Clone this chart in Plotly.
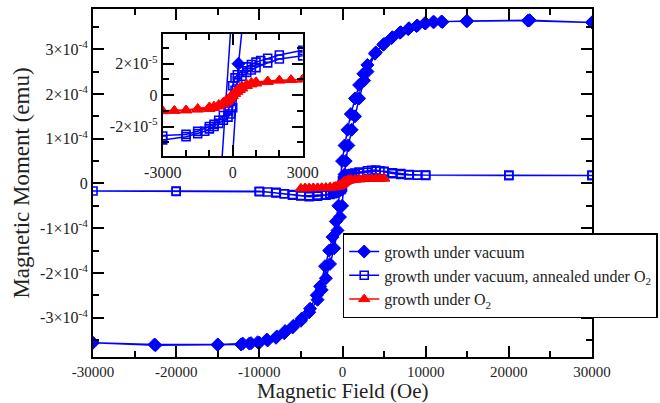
import plotly.graph_objects as go

# ---------------- data ----------------
# growth under vacuum: full hysteresis loop (descending then ascending branch)
vacuum_field = [30000, 22500, 15000, 12000, 11000, 10000, 9000, 8000, 7000, 6000,
                5000, 4000, 3000, 2500, 2000, 1500, 1000, 600, 250, -50,
                -500, -800, -1200, -1600, -2100, -2700, -3100, -3900, -4900, -5900,
                -6900, -7900, -9100, -10200, -11000, -12000, -15000, -22600, -30000,
                -22500, -15000, -12200, -11200, -10000, -9000, -8000, -7000, -6000,
                -5000, -4000, -3000, -2500, -2000, -1500, -1000, -600, -300, -50,
                250, 380, 700, 1100, 1500, 2000, 2600, 3000, 3900, 4900,
                5900, 6900, 7900, 8900, 9900, 10900, 11900, 14900, 22300, 30000]
vacuum_moment = [3.60e-4, 3.65e-4, 3.63e-4, 3.61e-4, 3.61e-4, 3.58e-4, 3.53e-4, 3.47e-4, 3.38e-4, 3.27e-4,
                 3.12e-4, 2.93e-4, 2.65e-4, 2.45e-4, 2.20e-4, 1.90e-4, 1.55e-4, 1.20e-4, 0.85e-4, 0.50e-4,
                 -0.50e-4, -0.85e-4, -1.20e-4, -1.50e-4, -1.85e-4, -2.30e-4, -2.50e-4, -2.80e-4, -3.02e-4, -3.18e-4,
                 -3.30e-4, -3.42e-4, -3.49e-4, -3.55e-4, -3.57e-4, -3.58e-4, -3.60e-4, -3.60e-4, -3.56e-4,
                 -3.62e-4, -3.61e-4, -3.60e-4, -3.58e-4, -3.56e-4, -3.51e-4, -3.45e-4, -3.35e-4, -3.22e-4,
                 -3.07e-4, -2.88e-4, -2.60e-4, -2.38e-4, -2.12e-4, -1.80e-4, -1.45e-4, -1.05e-4, -0.75e-4, -0.50e-4,
                 0.20e-4, 0.50e-4, 0.85e-4, 1.20e-4, 1.50e-4, 1.90e-4, 2.30e-4, 2.50e-4, 2.90e-4, 3.10e-4,
                 3.25e-4, 3.37e-4, 3.45e-4, 3.52e-4, 3.58e-4, 3.61e-4, 3.62e-4, 3.63e-4, 3.64e-4, 3.60e-4]

# growth under vacuum, annealed under O2
annealed_field = [30000, 20000, 10000, 9000, 8000, 7000, 6000, 5000, 4500, 4000,
                  3500, 3000, 2000, 1500, 1200, 1000, 800, 600, 400, 200,
                  100, 0, -100, -200, -400, -600, -800, -1000, -1500, -2000,
                  -3000, -4000, -5000, -6000, -7000, -8000, -10000, -20000, -30000,
                  -20000, -10000, -9000, -8000, -7000, -6000, -5000, -4000, -3000,
                  -2000, -1500, -1200, -1000, -800, -600, -400, -200, -100, 0,
                  100, 200, 400, 600, 800, 1000, 1500, 2000, 3000, 4000,
                  5000, 6000, 7000, 8000, 10000, 20000, 30000]
annealed_moment = [1.80e-5, 1.80e-5, 1.80e-5, 1.85e-5, 1.90e-5, 2.00e-5, 2.20e-5, 2.60e-5, 2.80e-5, 3.00e-5,
                   2.95e-5, 2.85e-5, 2.55e-5, 2.35e-5, 2.20e-5, 2.10e-5, 1.95e-5, 1.80e-5, 1.55e-5, 1.30e-5,
                   1.10e-5, 0.60e-5, -0.40e-5, -1.00e-5, -1.30e-5, -1.60e-5, -1.85e-5, -2.00e-5, -2.30e-5, -2.50e-5,
                   -2.60e-5, -2.75e-5, -2.70e-5, -2.50e-5, -2.30e-5, -2.00e-5, -1.75e-5, -1.70e-5, -1.70e-5,
                   -1.80e-5, -1.85e-5, -1.90e-5, -2.10e-5, -2.30e-5, -2.60e-5, -2.80e-5, -2.95e-5, -2.85e-5,
                   -2.65e-5, -2.45e-5, -2.30e-5, -2.15e-5, -2.00e-5, -1.80e-5, -1.60e-5, -1.40e-5, -1.20e-5, -0.80e-5,
                   0.30e-5, 0.90e-5, 1.20e-5, 1.45e-5, 1.60e-5, 1.75e-5, 2.05e-5, 2.30e-5, 2.50e-5, 2.75e-5,
                   2.70e-5, 2.40e-5, 2.20e-5, 2.00e-5, 1.85e-5, 1.80e-5, 1.80e-5]

# growth under O2
o2_field = [5000, 4500, 4000, 3500, 3000, 2500, 2000, 1500, 1000, 800,
            600, 400, 300, 200, 100, 0, -100, -200, -300, -400,
            -600, -800, -1000, -1500, -2000, -2500, -3000, -3500, -4000, -4500, -5000,
            -4500, -4000, -3500, -3000, -2500, -2000, -1500, -1000, -800,
            -600, -400, -300, -200, -100, 0, 100, 200, 300, 400,
            600, 800, 1000, 1500, 2000, 2500, 3000, 3500, 4000, 4500, 5000]
o2_moment = [1.10e-5, 1.08e-5, 1.05e-5, 1.03e-5, 1.00e-5, 0.98e-5, 0.95e-5, 0.90e-5, 0.85e-5, 0.80e-5,
             0.70e-5, 0.55e-5, 0.45e-5, 0.35e-5, 0.20e-5, 0.05e-5, -0.10e-5, -0.25e-5, -0.35e-5, -0.45e-5,
             -0.60e-5, -0.70e-5, -0.75e-5, -0.85e-5, -0.95e-5, -0.98e-5, -1.00e-5, -1.02e-5, -1.05e-5, -1.08e-5, -1.10e-5,
             -1.08e-5, -1.06e-5, -1.04e-5, -1.02e-5, -1.00e-5, -0.97e-5, -0.92e-5, -0.88e-5, -0.82e-5,
             -0.72e-5, -0.58e-5, -0.48e-5, -0.38e-5, -0.22e-5, -0.07e-5, 0.08e-5, 0.22e-5, 0.33e-5, 0.42e-5,
             0.58e-5, 0.68e-5, 0.74e-5, 0.84e-5, 0.93e-5, 0.97e-5, 1.00e-5, 1.02e-5, 1.05e-5, 1.08e-5, 1.10e-5]

series_names = ["growth under vacuum",
                "growth under vacuum, annealed under O<sub>2</sub>",
                "growth under O<sub>2</sub>"]

x_title = "Magnetic Field (Oe)"
y_title = "Magnetic Moment (emu)"

main_x_tickvals = [-30000, -20000, -10000, 0, 10000, 20000, 30000]
main_x_ticktext = ["-30000", "-20000", "-10000", "0", "10000", "20000", "30000"]
main_y_tickvals = [-3e-4, -2e-4, -1e-4, 0, 1e-4, 2e-4, 3e-4]
main_y_ticktext = ["-3×10<sup>-4</sup>", "-2×10<sup>-4</sup>", "-1×10<sup>-4</sup>", "0",
                   "1×10<sup>-4</sup>", "2×10<sup>-4</sup>", "3×10<sup>-4</sup>"]
inset_x_tickvals = [-3000, 0, 3000]
inset_x_ticktext = ["-3000", "0", "3000"]
inset_y_tickvals = [-2e-5, 0, 2e-5]
inset_y_ticktext = ["-2×10<sup>-5</sup>", "0", "2×10<sup>-5</sup>"]

# ---------------- figure ----------------
BLUE = "#0000ff"
RED = "#ff0000"
SERIF = "Liberation Serif"

styles = [
    dict(color=BLUE, symbol="diamond", size=10, line=dict(color=BLUE, width=1)),
    dict(color=BLUE, symbol="square-open", size=8, line=dict(color=BLUE, width=1.6)),
    dict(color=RED, symbol="triangle-up", size=10, line=dict(color=RED, width=1)),
]
datasets = [(vacuum_field, vacuum_moment), (annealed_field, annealed_moment), (o2_field, o2_moment)]

fig = go.Figure()
for (hx, my), name, st in zip(datasets, series_names, styles):
    lc = st["color"]
    fig.add_trace(go.Scatter(x=hx, y=my, mode="lines+markers", name=name,
                             line=dict(color=lc, width=1.5), marker=st,
                             xaxis="x", yaxis="y"))
for (hx, my), name, st in zip(datasets, series_names, styles):
    lc = st["color"]
    fig.add_trace(go.Scatter(x=hx, y=my, mode="lines+markers", name=name, showlegend=False,
                             line=dict(color=lc, width=1.5), marker=st,
                             xaxis="x2", yaxis="y2"))

axis_common = dict(showline=True, linecolor="black", linewidth=2, mirror="ticks",
                   ticks="inside", tickcolor="black", tickwidth=1.5, ticklen=11,
                   showgrid=False, zeroline=False, automargin=False,
                   tickfont=dict(family=SERIF, size=16, color="#222"))

fig.update_layout(
    width=660, height=403,
    margin=dict(l=93, r=68, t=9, b=46, autoexpand=False),
    paper_bgcolor="white", plot_bgcolor="white",
    font=dict(family=SERIF, color="black"),
    xaxis=dict(domain=[0, 1], range=[-30000, 30000], tickmode="array",
               tickvals=main_x_tickvals, ticktext=main_x_ticktext,
               minor=dict(dtick=5000, tick0=0, ticks="inside", ticklen=6, tickwidth=1.5, tickcolor="black"),
               **{**axis_common, "tickfont": dict(family=SERIF, size=15, color="#222")}),
    yaxis=dict(domain=[0, 1], range=[-3.88e-4, 3.9e-4], tickmode="array",
               tickvals=main_y_tickvals, ticktext=main_y_ticktext,
               minor=dict(dtick=5e-5, tick0=0, ticks="inside", ticklen=6, tickwidth=1.5, tickcolor="black"),
               title=dict(text=y_title, font=dict(family=SERIF, size=23, color="#222"), standoff=4),
               **axis_common),
    xaxis2=dict(domain=[0.1397, 0.4202], range=[-3000, 3000], anchor="y2", tickmode="array",
                tickvals=inset_x_tickvals, ticktext=inset_x_ticktext,
                minor=dict(dtick=1000, tick0=0, ticks="inside", ticklen=6, tickwidth=1.5, tickcolor="black"),
                **axis_common),
    yaxis2=dict(domain=[0.5764, 0.9286], range=[-3.9e-5, 3.9e-5], anchor="x2", tickmode="array",
                tickvals=inset_y_tickvals, ticktext=inset_y_ticktext,
                minor=dict(dtick=1e-5, tick0=0, ticks="inside", ticklen=6, tickwidth=1.5, tickcolor="black"),
                **axis_common),
    legend=dict(x=0.5004, y=0.356, xanchor="left", yanchor="top",
                bgcolor="white", bordercolor="black", borderwidth=1.5,
                font=dict(family=SERIF, size=16, color="#222"),
                itemwidth=30, tracegroupgap=0),
    showlegend=True,
    annotations=[dict(text=x_title, xref="paper", yref="paper", x=0.5, y=0,
                      xanchor="center", yanchor="top", yshift=-20, showarrow=False,
                      font=dict(family=SERIF, size=21, color="#222"))],
)

fig.write_html("out.html")
